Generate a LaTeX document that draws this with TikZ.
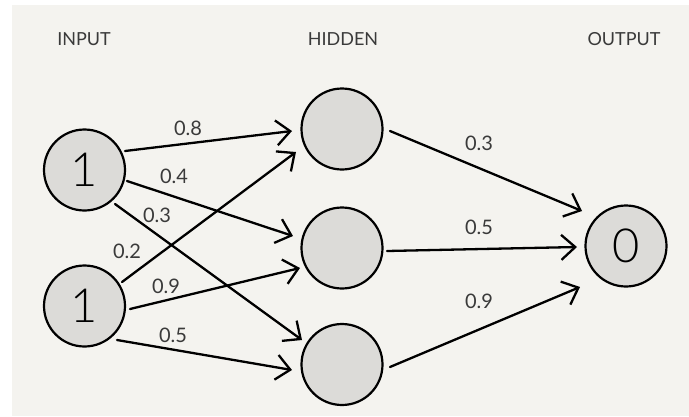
\documentclass[tikz,border=0pt]{standalone}
\usepackage{fontspec}
\setmainfont{Lato}
\newfontfamily\lightfont{Lato Light}
\usetikzlibrary{arrows.meta,calc}
\definecolor{bg}{HTML}{F4F3EF}
\definecolor{nodefill}{HTML}{DCDBD8}
\definecolor{txt}{HTML}{3A3A3A}
\begin{document}
\begin{tikzpicture}[x=1pt,y=-1pt,
  neuron/.style={circle,draw=black,line width=2.2pt,fill=nodefill,minimum size=81pt,inner sep=0pt,
    font=\lightfont\fontsize{47}{47}\selectfont,text=black},
  layertitle/.style={font=\fontsize{18}{18}\selectfont,text=txt,inner sep=0pt},
  weight/.style={font=\fontsize{20}{20}\selectfont,text=txt,inner sep=0pt},
  conn/.style={line width=2.3pt,line cap=round,-{Straight Barb[length=14pt,width=25pt,line width=2.3pt]}}]
\useasboundingbox (0,0) rectangle (689,416);
\fill[bg] (12,5) rectangle (689,416);

% layer titles
\node[layertitle] (tin)  at (84,39)  {INPUT};
\node[layertitle] (thid) at (343,39) {HIDDEN};
\node[layertitle] (tout) at (624,39) {OUTPUT};

% neurons
\node[neuron] (in1) at (84.5,170) {1};
\node[neuron] (in2) at (84.5,306) {1};
\node[neuron] (h1) at (342,129) {};
\node[neuron] (h2) at (342,248) {};
\node[neuron] (h3) at (342,364.5) {};
\node[neuron] (out) at (626,246) {0};

% connectors input -> hidden
\draw[conn] ($(in1)+(40.5,-19)$) -- ($(h1)+(-50,2)$);
\draw[conn] ($(in1)+(42.5,11)$) -- ($(h2)+(-49,-12)$);
\draw[conn] ($(in1)+(30.5,34)$) -- ($(h3)+(-40,-24.5)$);
\draw[conn] ($(in2)+(37.5,-24)$) -- ($(h1)+(-46,23)$);
\draw[conn] ($(in2)+(45.5,3)$) -- ($(h2)+(-42,20)$);
\draw[conn] ($(in2)+(32.5,34)$) -- ($(h3)+(-50,5.5)$);

% connectors hidden -> output
\draw[conn] ($(h1)+(48,2)$) -- ($(out)+(-44,-35)$);
\draw[conn] ($(h2)+(45,3)$) -- ($(out)+(-49,1)$);
\draw[conn] ($(h3)+(48,2.5)$) -- ($(out)+(-46,41)$);

% weights
\node[weight] (w1) at (188,128) {0.8};
\node[weight] (w2) at (174,176) {0.4};
\node[weight] (w3) at (157,215) {0.3};
\node[weight] (w4) at (127,251) {0.2};
\node[weight] (w5) at (166,286) {0.9};
\node[weight] (w6) at (173,335) {0.5};
\node[weight] (w7) at (479,143) {0.3};
\node[weight] (w8) at (479,227) {0.5};
\node[weight] (w9) at (479,301) {0.9};
\end{tikzpicture}
\end{document}
